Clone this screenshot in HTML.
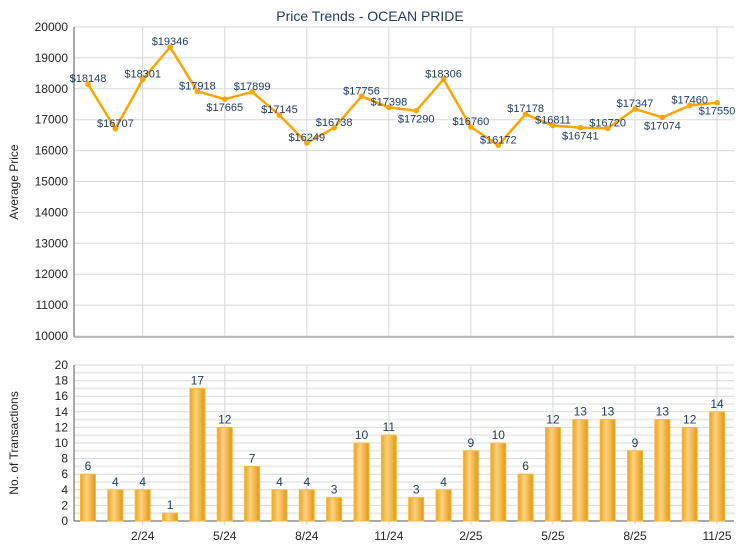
<!DOCTYPE html>
<html><head><meta charset="utf-8"><style>
body{margin:0;background:#fff}
svg{display:block;font-family:"Liberation Sans",sans-serif}
</style></head><body>
<svg width="740" height="550" viewBox="0 0 740 550" xmlns="http://www.w3.org/2000/svg">
<defs>
<linearGradient id="bg" x1="0" x2="1" y1="0" y2="0">
<stop offset="0" stop-color="#eea21c"/>
<stop offset="0.4" stop-color="#fdd384"/>
<stop offset="1" stop-color="#e5960a"/>
</linearGradient>
</defs>
<text x="370" y="21" text-anchor="middle" font-size="14" fill="#1f3b63">Price Trends - OCEAN PRIDE</text>
<g id="topg"></g>
<g id="botg"></g>
<script>
(function(){
const NS="http://www.w3.org/2000/svg";
function el(p,t,a,txt){const e=document.createElementNS(NS,t);for(const k in a)e.setAttribute(k,a[k]);if(txt!==undefined)e.textContent=txt;p.appendChild(e);return e;}
const tg=document.getElementById('topg'),bg=document.getElementById('botg');
const L=74,R=734;
const X=i=>88+27.35*i;
for(let v=10000;v<=20000;v+=1000){const y=336-(v-10000)*0.0309;
 el(tg,'line',{x1:L,x2:R,y1:y,y2:y,stroke:'#d8d8d8','stroke-width':1});
 el(tg,'text',{x:68,y:y+4,'text-anchor':'end','font-size':12,fill:'#222'},v);}
const ticks=[[2,'2/24'],[5,'5/24'],[8,'8/24'],[11,'11/24'],[14,'2/25'],[17,'5/25'],[20,'8/25'],[23,'11/25']];
ticks.forEach(([i])=>{el(tg,'line',{x1:X(i),x2:X(i),y1:27,y2:336,stroke:'#d8d8d8'});});
el(tg,'line',{x1:L,x2:L,y1:27,y2:337,stroke:'#555'});
el(tg,'line',{x1:L,x2:R,y1:337,y2:337,stroke:'#aaa','stroke-width':1.5});
el(tg,'text',{x:0,y:0,transform:'translate(18,182) rotate(-90)','text-anchor':'middle','font-size':12,fill:'#222'},'Average Price');
const P=[18148,16707,18301,19346,17918,17665,17899,17145,16249,16738,17756,17398,17290,18306,16760,16172,17178,16811,16741,16720,17347,17074,17460,17550];
const below=new Set([5,12,18,21,23]);
let pts=P.map((v,i)=>X(i)+','+(336-(v-10000)*0.0309)).join(' ');
el(tg,'polyline',{points:pts,fill:'none',stroke:'#ffa500','stroke-width':2.5,'stroke-linejoin':'round'});
P.forEach((v,i)=>{const y=336-(v-10000)*0.0309;
 el(tg,'circle',{cx:X(i),cy:y,r:2.8,fill:'#ffa500'});
 el(tg,'text',{x:X(i),y:below.has(i)?y+12:y-2,'text-anchor':'middle','font-size':11,fill:'#1f3b63'},'$'+v);});
const Y=v=>521-v*7.8;
for(let v=0;v<=20;v+=2){
 el(bg,'line',{x1:L,x2:R,y1:Y(v),y2:Y(v),stroke:'#d8d8d8'});
 if(v<20)el(bg,'line',{x1:L,x2:R,y1:Y(v+1),y2:Y(v+1),stroke:'#ececec','stroke-width':2});
 el(bg,'text',{x:68,y:Y(v)+4,'text-anchor':'end','font-size':12,fill:'#222'},v);}
ticks.forEach(([i,l])=>{el(bg,'line',{x1:X(i),x2:X(i),y1:365,y2:525,stroke:'#d8d8d8'});
 el(bg,'text',{x:X(i),y:540,'text-anchor':'middle','font-size':12,fill:'#222'},l);});
el(bg,'line',{x1:L,x2:L,y1:365,y2:521,stroke:'#555'});
el(bg,'line',{x1:L,x2:R,y1:521,y2:521,stroke:'#555'});
el(bg,'text',{x:0,y:0,transform:'translate(18,443) rotate(-90)','text-anchor':'middle','font-size':12,fill:'#222'},'No. of Transactions');
const B=[6,4,4,1,17,12,7,4,4,3,10,11,3,4,9,10,6,12,13,13,9,13,12,14];
B.forEach((v,i)=>{const y=Y(v);
 el(bg,'rect',{x:X(i)-7.5,y:y,width:15,height:521-y,fill:'url(#bg)',stroke:'#f7b83e','stroke-width':1});
 el(bg,'text',{x:X(i),y:y-4,'text-anchor':'middle','font-size':12,fill:'#1f3b63'},v);});
})();
</script>
</svg>
</body></html>
